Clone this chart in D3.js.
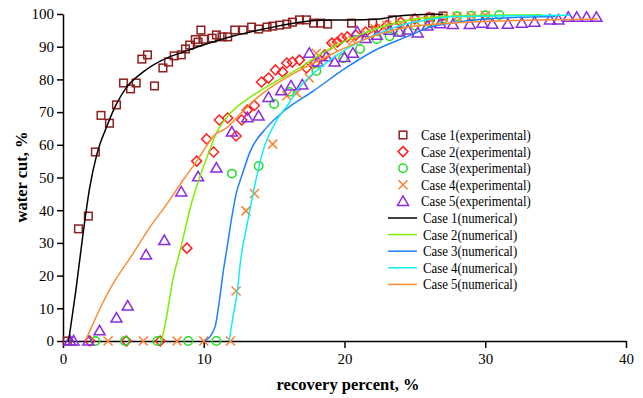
<!DOCTYPE html>
<html><head><meta charset="utf-8">
<script src="https://cdn.jsdelivr.net/npm/d3@7"></script>
<style>body{margin:0;background:#fff}svg{display:block}</style>
</head><body><svg id="c" width="643" height="398"></svg>
<script>
const xTicks=[0,10,20,30,40];
const yTicks=[0,10,20,30,40,50,60,70,80,90,100];
const legendLabels=["Case 1(experimental)","Case 2(experimental)","Case 3(experimental)","Case 4(experimental)","Case 5(experimental)","Case 1(numerical)","Case 2(numerical)","Case 3(numerical)","Case 4(numerical)","Case 5(numerical)"];

const exp1=[[0.3,0],[1.1,34.3],[1.8,38.2],[2.3,57.8],[2.7,69],[3.3,66.6],[3.8,72.2],[4.3,78.9],[4.8,77.1],[5.2,78.9],[5.6,86.2],[6.0,87.5],[6.5,78.0],[7.1,83.5],[7.5,85.3],[7.9,87.2],[8.4,87.5],[8.7,89.3],[9.0,90.5],[9.4,92.2],[9.6,91.4],[9.8,95.1],[10.0,92.3],[10.6,92.6],[10.9,93.6],[11.3,93],[11.7,93],[12.2,95.1],[12.8,95.1],[13.4,96],[13.9,95.4],[14.5,96],[14.9,96.3],[15.4,96.6],[15.9,96.9],[16.3,97.5],[16.8,98.2],[17.3,98.2],[17.8,97.2],[18.3,97.2],[18.8,96.9],[20.5,97.2],[22.0,97.2],[23.4,98.2],[26.1,99],[27,99.4]];
const exp2=[[1.9,0],[4.5,0],[6.9,0],[8.8,28.4],[9.5,55],[10.2,61.8],[10.7,57.8],[11.1,67.6],[11.7,68.2],[12.3,62.7],[12.7,67.6],[13.1,70.6],[13.6,72],[14.1,79.2],[14.6,80.4],[15.1,82.9],[15.6,82.3],[15.9,85],[16.3,85.3],[16.8,85.9],[17.3,83.5],[17.9,85],[18.6,87.5],[19.1,91.1],[19.5,91.4],[19.8,92.6],[20.2,93],[20.8,93.5],[21.5,94.5],[22.3,95.5],[23,96.5],[24,97.5],[25,98.5],[26,99]];
const exp3=[[2.3,0],[4.4,0],[6.7,0],[8.9,0],[10.9,0],[12.0,51.2],[13.9,53.5],[15.0,72.5],[16.1,76.2],[18.0,82.6],[19.9,86.5],[21.1,89.3],[22.3,92.3],[23.2,93.2],[24,94.5],[25,96.5],[26,97.5],[27,98.5],[28,99.3],[29,99.5],[30,99.6],[31,99.7]];
const exp4=[[3.2,0],[5.7,0],[8.1,0],[10.0,0],[11.9,0],[12.3,15.3],[13.0,39.8],[13.6,45.1],[14.9,60.2],[15.9,75.0],[16.6,75.8],[17.5,80.4],[18.0,88],[19.2,90],[20.6,92],[21.5,94],[22.2,95.5],[23,96.5],[24,97],[25,98],[26,98.5],[27,99],[28,99.2],[29,99.4],[30,99.5]];
const exp5=[[0.5,0],[0.75,0],[1.8,0],[2.6,3.1],[3.8,7.0],[4.6,10.7],[5.9,26.3],[7.2,30.7],[8.4,45.6],[9.6,50.2],[10.9,52.9],[12.0,63.9],[13.1,68.3],[13.9,68.8],[14.6,74.5],[15.5,76.5],[16.2,78],[17.0,78.3],[17.5,88],[18.1,85.3],[18.7,86.9],[19.3,85.3],[20.0,86.7],[20.6,88],[20.9,94.5],[21.5,92.5],[22.3,93.5],[23.2,95],[23.9,94.5],[24.5,95.1],[25.2,94.2],[25.9,96.3],[26.8,97],[27.7,96.8],[28.9,96.8],[29.8,97.2],[30.5,96.9],[31.6,96.9],[32.6,97.2],[33.5,97.5],[34.6,98.2],[35.2,98.2],[35.9,99],[36.5,99],[37.2,99],[37.9,99]];

const num1=[[0.4,0],[0.9,15],[1.4,32],[1.9,47],[2.4,57],[3.1,65.5],[3.8,72.5],[4.5,77.5],[5.7,82.3],[7.4,86.6],[8.3,88],[9.8,90.3],[12.1,93.3],[14.5,95.6],[16.8,97.5],[18.8,98.2],[20.2,98.2],[22.5,98.5],[23.5,99.2],[24.7,99.7],[27,99.9]];
const num2=[[7.0,0],[7.3,6],[7.8,18.6],[8.4,29],[9.0,40],[9.7,50],[10.3,57],[10.9,63.6],[11.9,69.7],[13.1,74],[14.2,77],[16.6,83],[19,89.5],[21.3,94],[23,96.5],[25,98.5],[28,99.4],[34,99.8]];
const num3=[[10.1,0],[10.8,4.3],[11.1,12],[11.4,21.7],[11.6,27],[12.0,38],[12.3,45],[12.7,50.5],[13.3,58],[14.5,65.4],[15.6,70],[17.8,76.5],[20.2,83.8],[22.2,89],[24.4,93],[26.1,96],[28,97.5],[30,98.5],[35,99.2]];
const num4=[[11.8,0],[12.1,8],[12.4,15.6],[12.6,24],[13.1,36],[13.5,45],[14.2,58],[15.2,67.6],[16.1,73],[16.6,76.5],[17.8,81.9],[19,86],[21.3,92],[22.5,94.2],[24,96.5],[26,98.3],[28,99.2],[36,99.6]];
const num5=[[1.6,0],[2.0,4],[3.3,15.6],[5,26.9],[6.2,35],[7.4,42],[8.5,49],[9.5,55],[10.9,63.5],[11.5,64.8],[12.6,69.5],[13.3,72.5],[14.2,75.8],[16.6,82.3],[19,87.5],[21.3,92],[23,94.5],[25,96.3],[28,97.3],[32,98],[38,98.5]];

const expColors=["#8f1f1f","#ff2020","#22dd22","#ff8030","#8a2be2"];
const numColors=["#000000","#7cf000","#1e80ff","#10eef0","#ff8c30"];
const expShapes=["square","diamond","circle","cross","triangle"];
const expData=[exp1,exp2,exp3,exp4,exp5];
const numData=[num1,num2,num3,num4,num5];
const FONT='"Liberation Serif"';

const svg=d3.select("#c");
const x=d3.scaleLinear().domain([0,40]).range([63,626]);
const y=d3.scaleLinear().domain([0,100]).range([341,14]);

function marker(g,shape,color){
  let el;
  if(shape==="square") el=g.append("rect").attr("x",-3.8).attr("y",-3.8).attr("width",7.6).attr("height",7.6);
  else if(shape==="diamond") el=g.append("path").attr("d","M0,-5L5,0L0,5L-5,0Z");
  else if(shape==="circle") el=g.append("circle").attr("r",4.2);
  else if(shape==="cross") el=g.append("path").attr("d","M-4.5,-4.5L4.5,4.5M-4.5,4.5L4.5,-4.5");
  else el=g.append("path").attr("d","M0,-5.5L5.5,4L-5.5,4Z");
  el.attr("fill","none").attr("stroke",color).attr("stroke-width",1.5);
}

// axes
const xa=svg.append("g").attr("transform","translate(0,341)").call(d3.axisBottom(x).tickValues(xTicks).tickSize(7).tickPadding(5).tickSizeOuter(0));
const ya=svg.append("g").attr("transform","translate(63,0)").call(d3.axisLeft(y).tickValues(yTicks).tickSize(6).tickPadding(3).tickSizeOuter(0));
[xa,ya].forEach(a=>{a.select(".domain").attr("stroke","#000").attr("stroke-width",1.5);a.selectAll(".tick line").attr("stroke","#000").attr("stroke-width",1.5);a.selectAll("text").style("font-family",FONT).style("font-size","15px").attr("fill","#000");});

// markers
expData.forEach((d,i)=>{
  d.forEach(p=>{const g=svg.append("g").attr("transform",`translate(${x(p[0])},${y(p[1])})`);marker(g,expShapes[i],expColors[i]);});
});
// lines
const line=d3.line().x(d=>x(d[0])).y(d=>y(d[1])).curve(d3.curveMonotoneX);
numData.forEach((d,i)=>{
  svg.append("path").datum(d).attr("d",line).attr("fill","none").attr("stroke",numColors[i]).attr("stroke-width",1.5);
});

// titles
svg.append("text").attr("x",348).attr("y",390).attr("text-anchor","middle").style("font-family",FONT).style("font-weight","bold").style("font-size","16.5px").text("recovery percent, %");
svg.append("text").attr("transform","translate(27,177) rotate(-90)").attr("text-anchor","middle").style("font-family",FONT).style("font-weight","bold").style("font-size","16.5px").text("water cut, %");

// legend
const ly0=135, ldy=16.6;
legendLabels.forEach((t,i)=>{
  const yy=ly0+i*ldy;
  const tx=i<5?421:423;
  if(i<5){
    const g=svg.append("g").attr("transform",`translate(403,${yy})`);marker(g,expShapes[i],expColors[i]);
  } else {
    svg.append("line").attr("x1",388).attr("x2",417).attr("y1",yy).attr("y2",yy).attr("stroke",numColors[i-5]).attr("stroke-width",1.5);
  }
  svg.append("text").attr("transform",`translate(${tx},${yy+5}) scale(0.915,1)`).style("font-family",FONT).style("font-size","14px").text(t);
});
</script></body></html>
